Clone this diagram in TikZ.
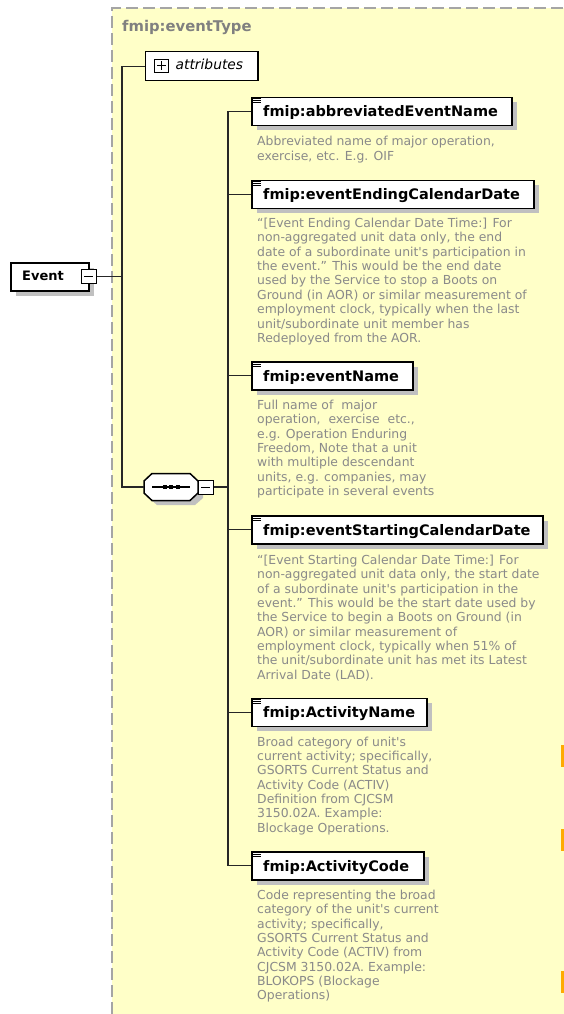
\documentclass[tikz,border=0pt]{standalone}
\usepackage{fontspec}
\newfontfamily\dv{DejaVu Sans}[ItalicFont={DejaVu Sans Oblique},BoldFont={DejaVu Sans Bold}]
\usetikzlibrary{calc}
\definecolor{ybg}{RGB}{255,255,200}
\definecolor{descgray}{RGB}{138,138,138}
\definecolor{titlegray}{RGB}{128,128,128}
\definecolor{shadowgray}{RGB}{192,192,192}
\definecolor{bordergray}{RGB}{165,165,165}
\definecolor{orangec}{RGB}{255,170,0}
\newcommand\xelem[5]{%
  \fill[shadowgray] (#2+5.5,#3+5.5) rectangle ++(#4,28);
  \node[elembox, minimum width=#4, anchor=north west] (#1) at (#2,#3) {};
  \node[elemtext, anchor=base west] (#1-t) at (#2+12,#3+20) {#5};
  \foreach \k in {1.8,3.8,5.8} \draw[line width=0.8pt] (#2+2,#3+\k) -- ++(7.5,0);
}
\begin{document}
\begin{tikzpicture}[x=1pt,y=-1pt,
  conn/.style={line width=1.4pt, draw=black!85},
  elembox/.style={draw=black, line width=1.5pt, fill=white, minimum height=28pt, inner sep=0pt},
  elemtext/.style={inner sep=0pt, font=\dv\bfseries\fontsize{14.5}{16}\selectfont},
  desc/.style={inner sep=0pt, anchor=base west, text=descgray, font=\dv\fontsize{12.4}{14.37}\selectfont},
  smallbox/.style={draw=black, line width=1pt, fill=white, minimum width=15pt, minimum height=14pt, inner sep=0pt}
]
\useasboundingbox (0,0) rectangle (564,1014);
% yellow type area
\fill[ybg] (112,8) rectangle (564,1014);
\draw[bordergray, line width=1.6pt, dash pattern=on 12pt off 5pt] (112,1014) -- (112,8) -- (564,8);
\node[anchor=base west, inner sep=0pt, text=titlegray, font=\dv\bfseries\fontsize{14.8}{16}\selectfont] (title) at (122,31.7) {fmip:eventType};
% orange marks at the right edge
\fill[orangec] (560.5,745) rectangle (564,767);
\fill[orangec] (560.5,829) rectangle (564,851);
\fill[orangec] (560.5,971) rectangle (564,993);

% trunk coordinates
\coordinate (tx) at (122,0);
\coordinate (sx) at (228,0);

% Event element
\fill[shadowgray] (16,268) rectangle ++(78,28);
\node[elembox, minimum width=78pt, anchor=north west] (event) at (10,262) {};
\node[anchor=base west, inner sep=0pt, font=\dv\bfseries\fontsize{13}{15}\selectfont] (event-t) at (22,280.5) {Event};
\node[smallbox] (evm) at (88.5,276.5) {};
\draw[line width=1pt] ($(evm.center)+(-4.5,0)$) -- ($(evm.center)+(4.5,0)$);

% attributes
\node[draw=black, line width=1.5pt, fill=white, minimum width=112.6pt, minimum height=29pt, inner sep=0pt, anchor=north west] (attr) at (144.6,51) {};
\node[draw=black, line width=1pt, fill=white, minimum width=14pt, minimum height=13pt, inner sep=0pt] (attrp) at (161.5,65.7) {};
\draw[line width=1pt] ($(attrp.center)+(-4.5,0)$) -- ($(attrp.center)+(4.5,0)$)
  ($(attrp.center)+(0,-4.5)$) -- ($(attrp.center)+(0,4.5)$);
\node[anchor=base west, inner sep=0pt, font=\dv\itshape\fontsize{13.8}{16}\selectfont] (attr-t) at (175.5,70) {attributes};

% sequence compositor
\node[minimum width=54pt, minimum height=27pt, inner sep=0pt] (seq) at (171,487) {};
\fill[shadowgray] (149,486) -- (157,478) -- (195,478) -- (203,486) -- (203,498) -- (195,505) -- (157,505) -- (149,498) -- cycle;
\draw[line width=1.5pt, fill=white] (144,481) -- (152,473.5) -- (190,473.5) -- (198,481) -- (198,493) -- (190,500.5) -- (152,500.5) -- (144,493) -- cycle;
\draw[line width=1.2pt] (152,487) -- (190,487);
\foreach \dx in {162.5,169.3,176.1} \fill (\dx,485.3) rectangle ++(4,3.4);
\node[smallbox] (seqm) at (205.5,487) {};
\draw[line width=1pt] ($(seqm.center)+(-4.5,0)$) -- ($(seqm.center)+(4.5,0)$);

% child elements
\xelem{abbr}{251}{97}{260}{fmip:abbreviatedEventName}
\xelem{endd}{251}{179.5}{282}{fmip:eventEndingCalendarDate}
\xelem{ename}{251}{361}{161}{fmip:eventName}
\xelem{startd}{251}{515}{291}{fmip:eventStartingCalendarDate}
\xelem{actn}{251}{697.5}{175}{fmip:ActivityName}
\xelem{actc}{251}{851}{172}{fmip:ActivityCode}

% connectors
\draw[conn] (evm.east) -- (evm.east -| tx);
\draw[conn] (attr.west) -- (attr.west -| tx) |- (seq.west);
\draw[conn] (seqm.east) -- (seqm.east -| sx);
\draw[conn] (abbr.west) -- (abbr.west -| sx) |- (actc.west);
\draw[conn] (endd.west) -- (endd.west -| sx);
\draw[conn] (ename.west) -- (ename.west -| sx);
\draw[conn] (startd.west) -- (startd.west -| sx);
\draw[conn] (actn.west) -- (actn.west -| sx);

% descriptions
\node[desc] (abbr-d) at (257,145.7) {\parbox[t]{300pt}{\raggedright
Abbreviated name of major operation,\\
exercise, etc. E.g. OIF}};
\node[desc] (endd-d) at (257,227.5) {\parbox[t]{300pt}{\raggedright
“[Event Ending Calendar Date Time:] For\\
non-aggregated unit data only, the end\\
date of a subordinate unit's participation in\\
the event.” This would be the end date\\
used by the Service to stop a Boots on\\
Ground (in AOR) or similar measurement of\\
employment clock, typically when the last\\
unit/subordinate unit member has\\
Redeployed from the AOR.}};
\node[desc] (ename-d) at (257,409.3) {\parbox[t]{300pt}{\raggedright
Full name of~ major\\
operation,~ exercise~ etc.,\\
e.g. Operation Enduring\\
Freedom, Note that a unit\\
with multiple descendant\\
units, e.g. companies, may\\
participate in several events}};
\node[desc] (startd-d) at (257,564.3) {\parbox[t]{300pt}{\raggedright
“[Event Starting Calendar Date Time:] For\\
non-aggregated unit data only, the start date\\
of a subordinate unit's participation in the\\
event.” This would be the start date used by\\
the Service to begin a Boots on Ground (in\\
AOR) or similar measurement of\\
employment clock, typically when 51\% of\\
the unit/subordinate unit has met its Latest\\
Arrival Date (LAD).}};
\node[desc] (actn-d) at (257,746) {\parbox[t]{300pt}{\raggedright
Broad category of unit's\\
current activity; specifically,\\
GSORTS Current Status and\\
Activity Code (ACTIV)\\
Definition from CJCSM\\
3150.02A. Example:\\
Blockage Operations.}};
\node[desc] (actc-d) at (257,899.3) {\parbox[t]{300pt}{\raggedright
Code representing the broad\\
category of the unit's current\\
activity; specifically,\\
GSORTS Current Status and\\
Activity Code (ACTIV) from\\
CJCSM 3150.02A. Example:\\
BLOKOPS (Blockage\\
Operations)}};
\end{tikzpicture}
\end{document}
